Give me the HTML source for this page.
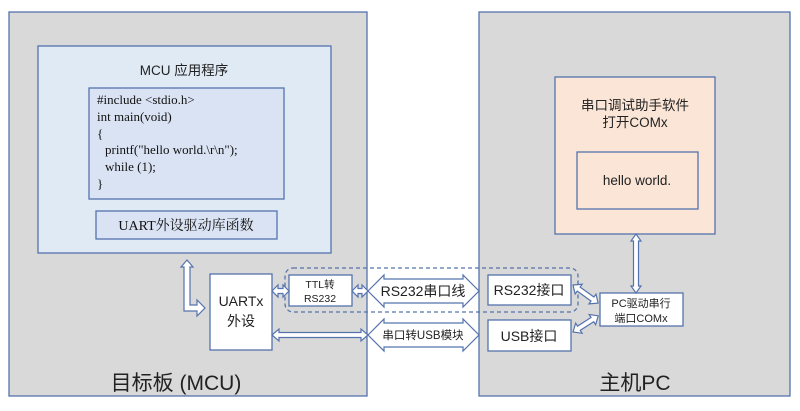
<!DOCTYPE html>
<html><head><meta charset="utf-8"><style>
html,body{margin:0;padding:0;background:#fff;}
svg{display:block;}
.s{font-family:"Liberation Sans","Noto Sans CJK SC",sans-serif;fill:#222;}
.r{font-family:"Liberation Serif","Noto Serif CJK SC",serif;fill:#111;}
</style></head><body>
<svg width="800" height="411" viewBox="0 0 800 411" xmlns="http://www.w3.org/2000/svg">
<g stroke="#5573ad" stroke-width="1.3">
<rect x="9" y="12" width="358" height="384" fill="#d9d9d9"/>
<rect x="479" y="12" width="311" height="384" fill="#d9d9d9"/>
<rect x="38" y="46" width="293" height="207" fill="#dfeaf5"/>
<rect x="89" y="88" width="195" height="111" fill="#dae3f3"/>
<rect x="96" y="211" width="181" height="28" fill="#dae3f3"/>
<rect x="555" y="77" width="160" height="157" fill="#fbe5d6"/>
<rect x="577" y="152" width="121" height="57" fill="#fbe5d6"/>
<rect x="210" y="274" width="62" height="76" fill="#fff"/>
<rect x="289" y="275" width="63" height="31" fill="#fff"/>
<rect x="488" y="275" width="83" height="30" fill="#fff"/>
<rect x="488" y="320" width="83" height="31" fill="#fff"/>
<rect x="600" y="293" width="83" height="33" fill="#fff"/>
<rect x="285" y="268" width="293" height="44" rx="8" fill="none" stroke-dasharray="4,3"/>
</g>
<g fill="#fff" stroke="#5573ad" stroke-width="1.2">
<polygon points="187,260 193,267 190,267 190,305 197,305 197,300 205,308 197,316 197,311 184,311 184,267 181,267"/>
<polygon transform="translate(272,291)" points="0,0 6,-6 6,-2.5 11,-2.5 11,-6 17,0 11,6 11,2.5 6,2.5 6,6"/>
<polygon transform="translate(352,291)" points="0,0 6,-6 6,-2.5 10,-2.5 10,-6 16,0 10,6 10,2.5 6,2.5 6,6"/>
<polygon transform="translate(272,335)" points="0,0 7,-6 7,-2.5 89,-2.5 89,-6 96,0 89,6 89,2.5 7,2.5 7,6"/>
<polygon transform="translate(368,291)" points="0,0 16,-16 16,-12 95,-12 95,-16 111,0 95,16 95,12 16,12 16,16"/>
<polygon transform="translate(368,335)" points="0,0 16,-16 16,-12 95,-12 95,-16 111,0 95,16 95,12 16,12 16,16"/>
<polygon transform="translate(573,285) rotate(35.8)" points="0,0 7,-6 7,-2.5 24,-2.5 24,-6 31,0 24,6 24,2.5 7,2.5 7,6"/>
<polygon transform="translate(573,332) rotate(-32.6)" points="0,0 7,-6 7,-2.5 23,-2.5 23,-6 30,0 23,6 23,2.5 7,2.5 7,6"/>
<polygon transform="translate(636,234) rotate(90)" points="0,0 7,-5 7,-2.5 52,-2.5 52,-5 59,0 52,5 52,2.5 7,2.5 7,5"/>
</g>
<text class="s" x="184" y="75" font-size="13.5" text-anchor="middle">MCU 应用程序</text>
<g class="r" font-size="13">
<text x="97" y="104">#include &lt;stdio.h&gt;</text>
<text x="97" y="121">int main(void)</text>
<text x="97" y="138">{</text>
<text x="105" y="154">printf("hello world.\r\n");</text>
<text x="105" y="171">while (1);</text>
<text x="97" y="188">}</text>
</g>
<text class="r" x="186" y="230" font-size="14" text-anchor="middle">UART外设驱动库函数</text>
<text class="s" x="241" y="306" font-size="14" text-anchor="middle">UARTx</text>
<text class="s" x="241" y="326" font-size="14" text-anchor="middle">外设</text>
<text class="s" x="320" y="288" font-size="10.5" text-anchor="middle">TTL转</text>
<text class="s" x="320" y="302" font-size="10.5" text-anchor="middle">RS232</text>
<text class="s" x="423" y="296" font-size="14" text-anchor="middle">RS232串口线</text>
<text class="s" x="423" y="339" font-size="11.5" text-anchor="middle">串口转USB模块</text>
<text class="s" x="529" y="295" font-size="14" text-anchor="middle">RS232接口</text>
<text class="s" x="529" y="341" font-size="14" text-anchor="middle">USB接口</text>
<text class="s" x="641" y="307" font-size="11" text-anchor="middle">PC驱动串行</text>
<text class="s" x="641" y="322" font-size="11" text-anchor="middle">端口COMx</text>
<text class="s" x="635" y="110" font-size="13.5" text-anchor="middle">串口调试助手软件</text>
<text class="s" x="635" y="127" font-size="13.5" text-anchor="middle">打开COMx</text>
<text class="s" x="637" y="185" font-size="13.5" text-anchor="middle">hello world.</text>
<text class="s" x="176" y="390" font-size="21" text-anchor="middle">目标板 (MCU)</text>
<text class="s" x="635" y="390" font-size="21" text-anchor="middle">主机PC</text>
</svg>
</body></html>
